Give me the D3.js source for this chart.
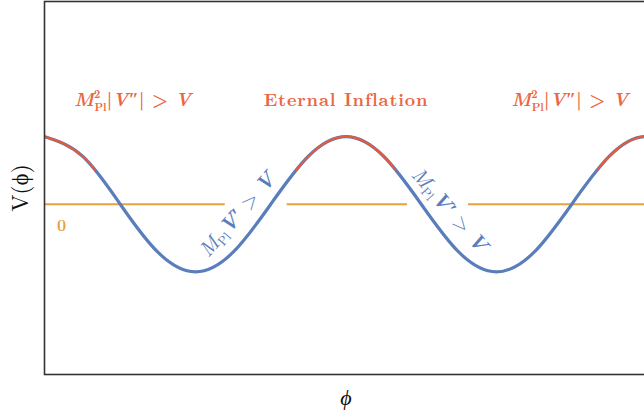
<!DOCTYPE html>
<html><head><meta charset="utf-8">
<script src="https://cdn.jsdelivr.net/npm/d3@7"></script>
<style>
html,body{margin:0;padding:0;background:#fff;}
svg text{font-family:"Latin Modern Roman","CMU Serif","Liberation Serif","DejaVu Serif",serif;}
</style></head>
<body>
<svg id="c" width="644" height="417"></svg>
<script>
// phi in degrees, V
const phiValues = [0,45,90,135,180,225,270,315,360,405,450,495,540,585,630,675,720,765];
const vValues   = [1,0.71,0,-0.71,-1,-0.71,0,0.71,1,0.71,0,-0.71,-1,-0.71,0,0.71,1,0.71];
// red sections (|V''| > V regions near maxima)
const redRanges = [[-10,60],[300,420],[660,780]];
// zero line segments (gaps for labels)
const zeroSegments = [[0,215],[289,433],[506,780]];
const xDomain = [0,720];
const yDomain = [-2.52,3.0];

const svg = d3.select("#c");
const L=44.5, T=1.5, B=374.5, R=647;
const x = d3.scaleLinear().domain(xDomain).range([L+0.5,R]);
const y = d3.scaleLinear().domain(yDomain).range([B,T]);

const blue="#5a7dbb", red="#e25b3c", orange="#e6a23c", txtRed="#ec6641";

svg.append("defs").append("clipPath").attr("id","plot")
  .append("rect").attr("x",L).attr("y",T).attr("width",700).attr("height",B-T);

const g = svg.append("g").attr("clip-path","url(#plot)");
const pts = phiValues.map((p,i)=>[p,vValues[i]]);
const line = d3.line().x(d=>x(d[0])).y(d=>y(d[1])).curve(d3.curveNatural);

// zero line
g.selectAll("line.z").data(zeroSegments).join("line")
  .attr("x1",d=>x(d[0])).attr("x2",d=>x(d[1]))
  .attr("y1",y(0)).attr("y2",y(0))
  .attr("stroke",orange).attr("stroke-width",2);

g.append("path").attr("d",line(pts)).attr("fill","none")
  .attr("stroke",blue).attr("stroke-width",3.2);

const defs = svg.select("defs");
redRanges.forEach((r,i)=>{
  defs.append("clipPath").attr("id","red"+i).append("rect")
    .attr("x",x(r[0])).attr("width",x(r[1])-x(r[0])).attr("y",0).attr("height",417);
  g.append("path").attr("d",line(pts)).attr("fill","none")
    .attr("stroke",red).attr("stroke-width",2.2).attr("clip-path","url(#red"+i+")");
});

// frame
svg.append("rect").attr("x",L).attr("y",T).attr("width",R+10-L).attr("height",B-T)
  .attr("fill","none").attr("stroke","#333").attr("stroke-width",1.6);

// labels
function mathLabel(sel){
  sel.append("tspan").attr("font-style","italic").text("M");
  sel.append("tspan").attr("font-size","11px").attr("dy",-8).text("2");
  sel.append("tspan").attr("font-size","11px").attr("dx",-6).attr("dy",13).text("Pl");
  sel.append("tspan").attr("dy",-5).text("|");
  sel.append("tspan").attr("font-style","italic").text("V\u2033");
  sel.append("tspan").text("| > ");
  sel.append("tspan").attr("font-style","italic").text("V");
}
[105,628].forEach(p=>{
  const t = svg.append("text").attr("x",x(p)).attr("y",y(1.46))
    .attr("text-anchor","middle").attr("fill",txtRed)
    .attr("font-weight","bold").attr("font-size","18.5px");
  mathLabel(t);
});
svg.append("text").attr("x",x(360)).attr("y",y(1.46)).attr("text-anchor","middle")
  .attr("fill",txtRed).attr("font-weight","bold").attr("font-size","18px")
  .attr("letter-spacing","0.8px").text("Eternal Inflation");

svg.append("text").attr("x",x(20)).attr("y",y(-0.4)).attr("text-anchor","middle")
  .attr("fill",orange).attr("font-weight","bold").attr("font-size","16px").text("0");

function blueLabel(p,v,rot){
  const t = svg.append("text").attr("transform",`translate(${x(p)},${y(v)}) rotate(${rot})`)
    .attr("text-anchor","middle").attr("fill",blue).attr("font-size","21px");
  t.append("tspan").attr("font-style","italic").text("M");
  t.append("tspan").attr("font-size","13px").attr("dy",4).text("Pl");
  t.append("tspan").attr("dy",-4).attr("font-weight","bold").attr("font-style","italic").text("V\u2032");
  t.append("tspan").text(" > ");
  t.append("tspan").attr("font-weight","bold").attr("font-style","italic").text("V");
}
blueLabel(236,-0.22,-49);
blueLabel(478,-0.15,49);

svg.append("text").attr("transform",`translate(28,${(T+B)/2}) rotate(-90)`)
  .attr("text-anchor","middle").attr("font-size","23px").attr("fill","#111")
  .text("V(\u03d5)");
svg.append("text").attr("x",x(360)).attr("y",405).attr("text-anchor","middle")
  .attr("font-size","22px").attr("font-style","italic").attr("fill","#111").text("\u03d5");
</script>
</body></html>
